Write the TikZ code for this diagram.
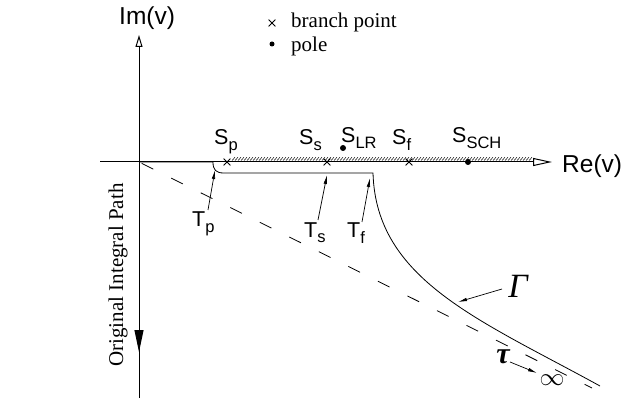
\documentclass[tikz,border=0pt]{standalone}
\usepackage{fontspec}
\setmainfont{Liberation Serif}
\newfontfamily\arialf{Liberation Sans}
\usetikzlibrary{arrows.meta,shapes.misc}
\newcommand{\lbsub}[1]{\raisebox{-5.5pt}{\fontsize{16.5}{16.5}\selectfont #1}}
\begin{document}
\begin{tikzpicture}[x=1pt,y=-1pt,
  axisline/.style={line width=1pt},
  pathline/.style={line width=0.8pt},
  lab/.style={font=\arialf\fontsize{21.5}{21.5}\selectfont, inner sep=0pt, anchor=base west},
  axlab/.style={font=\arialf\fontsize{24.5}{24.5}\selectfont, inner sep=0pt, anchor=base west},
  ptr/.style={line width=0.7pt, -{Latex[length=9pt,width=3.5pt]}},
  bpt/.style={cross out, draw, line width=0.8pt, minimum size=6pt, inner sep=0pt},
  polept/.style={circle, fill, inner sep=0pt, minimum size=6pt},
  legtext/.style={font=\fontsize{21}{21}\selectfont, inner sep=0pt, anchor=base west},
]
\useasboundingbox (0,0) rectangle (640,406);
% axes
\coordinate (O) at (139,162);
\coordinate (vtop) at (139,35);
\coordinate (vbot) at (139,398);
\coordinate (hleft) at (100,162);
\coordinate (htip) at (552,162);
\coordinate (darr) at (139,352);
\draw[axisline, -{Triangle[open,length=12pt,width=7pt]}] (vbot) -- (vtop);
\draw[axisline, -{Triangle[open,length=19pt,width=8pt]}] (hleft) -- (htip);
\draw[axisline, -{Triangle[length=22pt,width=9pt]}] (O) -- (darr);
\node[axlab] (im) at (119,25) {Im(v)};
\node[axlab] (re) at (562,173) {Re(v)};
% branch cut hatching
\foreach \x in {232,235,...,530} \draw[line width=0.5pt] (\x,160.5) -- (\x+3,157.3);
% branch points and poles
\node[bpt] (Sp) at (227,162) {};
\node[bpt] (Ss) at (327,162) {};
\node[bpt] (Sf) at (409,162) {};
\node[polept] (SLR) at (343,148) {};
\node[polept] (SSCH) at (468,162) {};
\node[lab] (lSp) at (214,145) {S\lbsub{p}};
\node[lab] (lSs) at (299,145) {S\lbsub{s}};
\node[lab] (lSLR) at (341,143) {S\lbsub{LR}};
\node[lab] (lSf) at (392,145) {S\lbsub{f}};
\node[lab] (lSSCH) at (452,143) {S\lbsub{SCH}};
% legend
\node[bpt] (legx) at (272,23) {};
\node[polept, minimum size=5pt] (legdot) at (272,44) {};
\node[legtext] (leg1) at (291,28) {branch point};
\node[legtext] (leg2) at (291,52) {pole};
% dashed line
\coordinate (dend) at (592,388);
\draw[line width=0.8pt, dash pattern=on 13pt off 20pt, dash phase=-3pt] (O) -- (dend);
% integration path
\coordinate (c1) at (213,162);
\coordinate (c2) at (224,173);
\coordinate (c3) at (373,173);
\coordinate (c4) at (600,386);
\draw[pathline] (O) -- (c1) .. controls (213,170) and (216,173) .. (c2) -- (c3)
  .. controls (376,280) and (480,320) .. (c4);
% T labels
\node[lab] (Tp) at (192,227) {T\lbsub{p}};
\node[lab] (Ts) at (304,237) {T\lbsub{s}};
\node[lab] (Tf) at (347,238) {T\lbsub{f}};
\coordinate (tpa) at (208,210); \coordinate (tpb) at (215,170);
\coordinate (tsa) at (318,220); \coordinate (tsb) at (327,175);
\coordinate (tfa) at (362,222); \coordinate (tfb) at (370,178);
\draw[ptr] (tpa) -- (tpb);
\draw[ptr] (tsa) -- (tsb);
\draw[ptr] (tfa) -- (tfb);
% Gamma
\node[font=\itshape\fontsize{34}{34}\selectfont, inner sep=0pt] (G) at (518,286) {Γ};
\coordinate (ga) at (502,289); \coordinate (gb) at (458,302);
\draw[ptr] (ga) -- (gb);
% tau to infinity
\node[font=\bfseries\itshape\fontsize{30}{30}\selectfont, inner sep=0pt] (tau) at (503,357) {τ};
\node[font=\fontsize{30}{30}\selectfont, inner sep=0pt] (inf) at (552,380) {$\infty$};
\coordinate (ta) at (510,362); \coordinate (tb) at (537,373);
\draw[ptr] (ta) -- (tb);
% rotated label
\node[rotate=90, font=\fontsize{21}{21}\selectfont, inner sep=0pt] (orig) at (118,275) {Original Integral Path};
\end{tikzpicture}
\end{document}
